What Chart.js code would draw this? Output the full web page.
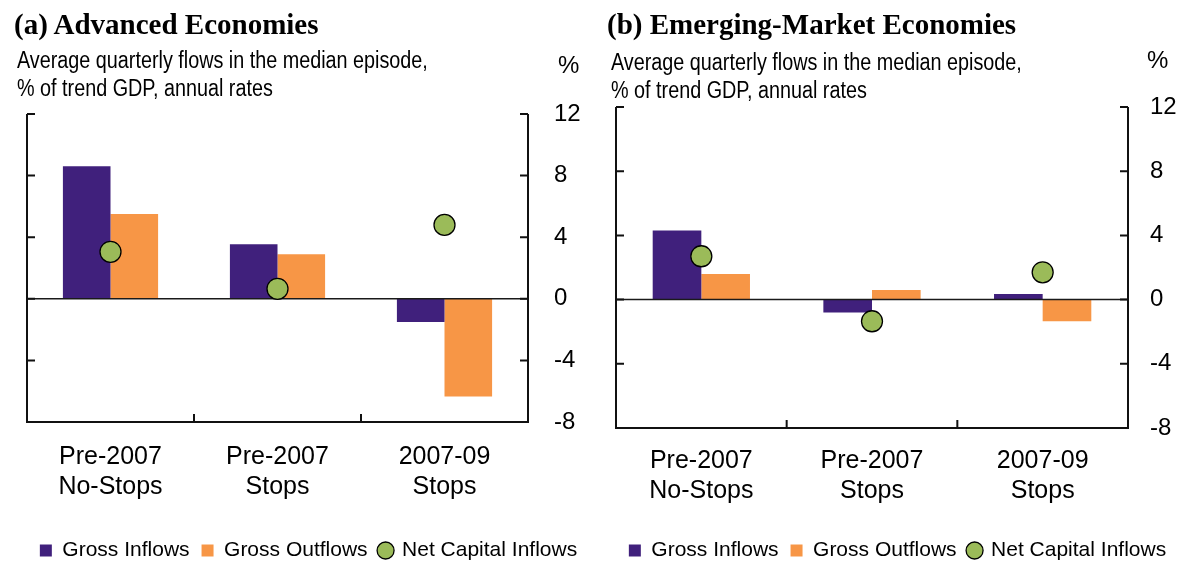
<!DOCTYPE html>
<html>
<head>
<meta charset="utf-8">
<script src="https://cdn.jsdelivr.net/npm/chart.js@4.4.1/dist/chart.umd.min.js"></script>
<style>
body { margin: 0; background: #fff; width: 1179px; height: 562px; position: relative; overflow: hidden;
       font-family: "Liberation Sans", Arial, sans-serif; color: #000; }
.panel { position: absolute; top: 0; height: 562px; overflow: hidden; }
.title { position: absolute; top: 10px; font: bold 29px/29px "Liberation Serif", serif; white-space: nowrap; }
.sub { position: absolute; font-size: 23px; line-height: 28px; white-space: nowrap;
       transform: scaleX(0.86); transform-origin: 0 0; }
.unit { position: absolute; font-size: 24px; line-height: 24px; }
canvas { position: absolute; left: 0; top: 0; }
</style>
</head>
<body>
<div class="panel" id="pa" style="left:0;width:590px;">
  <canvas id="chartA" width="590" height="562"></canvas>
  <div class="title" style="left:14px;">(a) Advanced Economies</div>
  <div class="sub" style="left:17px;top:46px;">Average quarterly flows in the median episode,<br>% of trend GDP, annual rates</div>
  <div class="unit" style="left:558px;top:53px;">%</div>
</div>
<div class="panel" id="pb" style="left:590px;width:589px;">
  <canvas id="chartB" width="589" height="562"></canvas>
  <div class="title" style="left:17px;">(b) Emerging-Market Economies</div>
  <div class="sub" style="left:21px;top:48px;">Average quarterly flows in the median episode,<br>% of trend GDP, annual rates</div>
  <div class="unit" style="left:557px;top:48px;">%</div>
</div>
<script>
'use strict';

const categories = [['Pre-2007', 'No-Stops'], ['Pre-2007', 'Stops'], ['2007-09', 'Stops']];
const yTicks = [-8, -4, 0, 4, 8, 12];
const seriesNames = ['Gross Inflows', 'Gross Outflows', 'Net Capital Inflows'];

// (a) advanced economies
const advGrossInflows = [8.6, 3.55, -1.5];
const advGrossOutflows = [5.5, 2.9, -6.35];
const advNetInflows = [3.05, 0.65, 4.8];

// (b) emerging-market economies
const emgGrossInflows = [4.3, -0.8, 0.35];
const emgGrossOutflows = [1.6, 0.6, -1.35];
const emgNetInflows = [2.7, -1.35, 1.7];

const PURPLE = '#40207c';
const ORANGE = '#f79646';
const GREEN = '#9bbb59';

const LEGEND_FONT = {family: 'Liberation Sans', size: 21};
const LEGEND_PAD = 12;
const LEGEND_SHIFT = -9;   // push legend row down to y ~550

// frame with inside tick marks, zero line over the bars
const framePlugin = {
    id: 'frame',
    afterDatasetDraw(chart, args) {
        if (args.index !== 0)
            return;
        const {ctx, chartArea: a} = chart;
        const y0 = chart.scales.y.getPixelForValue(0);
        ctx.save();
        ctx.strokeStyle = '#1a1a1a';
        ctx.lineWidth = 1.5;
        ctx.beginPath();
        ctx.moveTo(a.left, y0);
        ctx.lineTo(a.right, y0);
        ctx.stroke();
        ctx.restore();
    },
    afterDraw(chart) {
        const {ctx, chartArea: a, scales: {x, y}} = chart;
        ctx.save();
        ctx.strokeStyle = '#111';
        ctx.lineWidth = 2;
        ctx.beginPath();
        ctx.moveTo(a.left, a.top);
        ctx.lineTo(a.left, a.bottom);
        ctx.lineTo(a.right, a.bottom);
        ctx.lineTo(a.right, a.top);
        for (const t of y.ticks) {
            const py = y.getPixelForValue(t.value);
            ctx.moveTo(a.left, py);
            ctx.lineTo(a.left + 8, py);
            ctx.moveTo(a.right, py);
            ctx.lineTo(a.right - 8, py);
        }
        for (let i = 1; i < x.ticks.length; i++) {
            const px = (x.getPixelForTick(i - 1) + x.getPixelForTick(i)) / 2;
            ctx.moveTo(px, a.bottom);
            ctx.lineTo(px, a.bottom - 8);
        }
        ctx.stroke();
        ctx.restore();
    }
};

function makeChart(id, inflows, outflows, net, lay) {
    const canvas = document.getElementById(id);
    return new Chart(canvas.getContext('2d'), {
        type: 'bar',
        data: {
            labels: categories,
            datasets: [{
                label: seriesNames[0],
                data: inflows,
                backgroundColor: PURPLE,
                pointStyle: 'rect',
                order: 1
            }, {
                label: seriesNames[1],
                data: outflows,
                backgroundColor: ORANGE,
                pointStyle: 'rect',
                order: 1
            }, {
                type: 'line',
                label: seriesNames[2],
                data: net,
                showLine: false,
                pointStyle: 'circle',
                pointRadius: 10.5,
                pointBackgroundColor: GREEN,
                pointBorderColor: '#000',
                pointBorderWidth: 1.3,
                backgroundColor: GREEN,
                borderColor: '#000',
                borderWidth: 1.3,
                order: 0
            }]
        },
        options: {
            responsive: false,
            animation: false,
            events: [],
            layout: {
                padding: {left: lay.left, top: lay.top, right: 0, bottom: LEGEND_SHIFT}
            },
            datasets: {
                bar: {barPercentage: 1, categoryPercentage: 0.57}
            },
            scales: {
                x: {
                    grid: {display: false},
                    border: {display: false},
                    ticks: {
                        color: '#000',
                        padding: lay.xPad,
                        maxRotation: 0,
                        font: {family: 'Liberation Sans', size: 25, lineHeight: 1.2}
                    },
                    // x axis height chosen so the plot bottom lands where the original has it
                    afterFit: s => {
                        s.height = s.chart.height - LEGEND_SHIFT - s.chart.legend.height - lay.plotBottom;
                    }
                },
                y: {
                    position: 'right',
                    min: yTicks[0],
                    max: yTicks[yTicks.length - 1],
                    grid: {display: false, drawTicks: false},
                    border: {display: false},
                    ticks: {
                        stepSize: yTicks[1] - yTicks[0],
                        color: '#000',
                        padding: lay.yPad,
                        font: {family: 'Liberation Sans', size: 24}
                    },
                    afterFit: s => { s.width = lay.yWidth; }
                }
            },
            plugins: {
                legend: {
                    position: 'bottom',
                    labels: {
                        usePointStyle: true,
                        boxWidth: 12,
                        boxHeight: 12,
                        padding: LEGEND_PAD,
                        color: '#000',
                        font: LEGEND_FONT,
                        sort: (a, b) => a.datasetIndex - b.datasetIndex
                    }
                },
                tooltip: {enabled: false}
            }
        },
        plugins: [framePlugin]
    });
}

makeChart('chartA', advGrossInflows, advGrossOutflows, advNetInflows,
    {left: 27, top: 114, plotBottom: 422, xPad: 12, yWidth: 62, yPad: 26});
makeChart('chartB', emgGrossInflows, emgGrossOutflows, emgNetInflows,
    {left: 26, top: 107, plotBottom: 428, xPad: 10, yWidth: 51, yPad: 22});
</script>
</body>
</html>
